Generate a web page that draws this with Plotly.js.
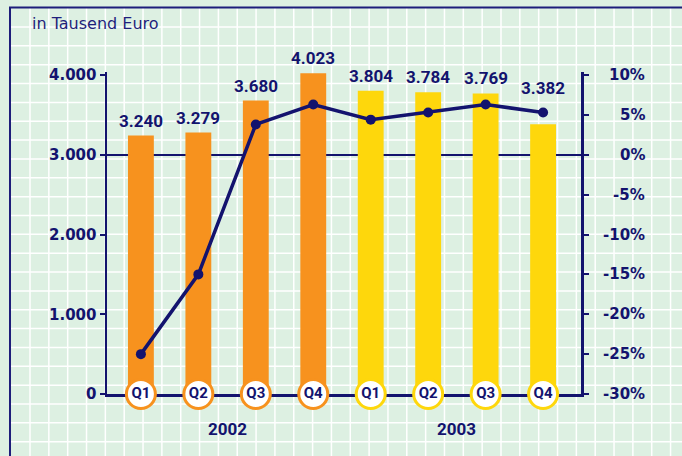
<!DOCTYPE html>
<html>
<head>
<meta charset="utf-8">
<script src="https://cdn.plot.ly/plotly-3.0.1.min.js"></script>
<style>
html,body{margin:0;padding:0;background:#ddf0e2;}
#chart{width:682px;height:456px;}
</style>
</head>
<body>
<div id="chart"></div>
<script>
// ---- data ----
const years    = ['2002','2002','2002','2002','2003','2003','2003','2003'];
const quarters = ['Q1','Q2','Q3','Q4','Q1','Q2','Q3','Q4'];
const revenue  = [3240, 3279, 3680, 4023, 3804, 3784, 3769, 3382];      // in Tausend Euro
const revenueLabels = ['3.240','3.279','3.680','4.023','3.804','3.784','3.769','3.382'];
const change   = [-25, -15, 3.8, 6.3, 4.4, 5.3, 6.3, 5.3];             // %
const leftTicks  = [0, 1000, 2000, 3000, 4000];
const rightTicks = [10, 5, 0, -5, -10, -15, -20, -25, -30];
const rightTickLabels = ['10%','5%','0%','-5%','-10%','-15%','-20%','-25%','-30%'];
const yearLabels = ['2002','2003'];

// ---- styling ----
const NAVY = '#13136e';
const BG = '#ddf0e2';
const yearColor = {'2002':'#f7921e','2003':'#fed70c'};
const W = 682, H = 456;
const keys = quarters.map((q,i)=> years[i]+' '+q);
const fontAxis = {family:'DejaVu Sans, Verdana, sans-serif', size:15, color:NAVY, weight:700};
const fontNarrow = {family:'Liberation Sans Narrow, Roboto, Arial Narrow, sans-serif', size:17, color:NAVY, weight:700};

const px = x => x / W;
const py = y => 1 - y / H;

// axis ranges (both share the same vertical domain)
const yRange  = [0, 4040];
const y2Range = [-30, 10];
const plotBottom = 394, tick4000 = 75;
const plotTop = tick4000 - (yRange[1] - 4000) * (plotBottom - tick4000) / 4000;
const y2RangeAdj = [y2Range[0], y2Range[0] + (y2Range[1]-y2Range[0]) * (plotBottom - plotTop) / (plotBottom - tick4000)];

const shapes = [];
// background grid (decoration)
for (let x = 30; x < W; x += 18.84) {
  shapes.push({type:'line', xref:'paper', yref:'paper', x0:px(x), x1:px(x), y0:py(8), y1:0,
    line:{color:'#ffffff', width:1.5}, layer:'below'});
}
for (let y = 27; y < H; y += 18.85) {
  shapes.push({type:'line', xref:'paper', yref:'paper', x0:px(10), x1:1, y0:py(y), y1:py(y),
    line:{color:'#ffffff', width:1.5}, layer:'below'});
}
// frame
shapes.push({type:'line', xref:'paper', yref:'paper', x0:px(10), x1:px(10), y0:py(7.5), y1:0,
  line:{color:'#1d1d7a', width:2}, layer:'below'});
shapes.push({type:'line', xref:'paper', yref:'paper', x0:px(9), x1:1, y0:py(7.5), y1:py(7.5),
  line:{color:'#1d1d7a', width:2}, layer:'below'});

const annotations = [];
annotations.push({text:'in Tausend Euro', xref:'paper', yref:'paper', x:px(30), y:py(24),
  xanchor:'left', yanchor:'middle', showarrow:false,
  font:{family:'DejaVu Sans, Verdana, sans-serif', size:16, color:'#1f1f7c'}});
// bar value labels: above the bar, or above the line point if it would collide
keys.forEach((k,i)=>{
  const lineInLeftUnits = (change[i] - y2Range[0]) / (y2Range[1]-y2Range[0]) * 4000;
  const base = Math.max(revenue[i], lineInLeftUnits + 120);
  annotations.push({text:revenueLabels[i], x:k, y:base, xref:'x', yref:'y',
    yanchor:'middle', yshift:15, showarrow:false, font:fontNarrow});
});
// right axis labels (right aligned)
rightTicks.forEach((v,i)=>{
  annotations.push({text:rightTickLabels[i], x:px(647), y:v, xref:'paper', yref:'y2',
    xanchor:'right', yanchor:'middle', showarrow:false, font:fontAxis});
});
// year labels
yearLabels.forEach((yr)=>{
  const idx = years.map((y,i)=> y===yr ? i : -1).filter(i=>i>=0);
  const mid = (idx[0] + idx[idx.length-1]) / 2;
  annotations.push({text:yr, x:mid, y:py(429), xref:'x', yref:'paper',
    yanchor:'middle', showarrow:false, font:fontNarrow});
});

const traces = [
  {type:'bar', x:keys, y:revenue, marker:{color:years.map(y=>yearColor[y])},
   width:0.45, hoverinfo:'skip', cliponaxis:false, xaxis:'x', yaxis:'y'},
  {type:'scatter', mode:'markers+text', x:keys, y:keys.map(()=>0), text:quarters,
   textposition:'middle center', textfont:{family:fontNarrow.family, size:15, color:NAVY, weight:700},
   marker:{size:29, color:'#ffffff', line:{color:years.map(y=>yearColor[y]), width:3}},
   cliponaxis:false, hoverinfo:'skip', xaxis:'x', yaxis:'y'},
  {type:'scatter', mode:'lines+markers', x:keys, y:change,
   line:{color:NAVY, width:3.5}, marker:{color:NAVY, size:10},
   cliponaxis:false, hoverinfo:'skip', xaxis:'x', yaxis:'y2'}
];

const layout = {
  width:W, height:H,
  margin:{l:0, r:0, t:0, b:0},
  paper_bgcolor:BG, plot_bgcolor:'rgba(0,0,0,0)',
  showlegend:false,
  separators:',.',
  xaxis:{type:'category', domain:[px(107), px(581)], range:[-0.59, 7.66],
    showticklabels:false, ticks:'', showgrid:false, zeroline:false,
    showline:true, linecolor:NAVY, linewidth:2.5, layer:'below traces', fixedrange:true},
  yaxis:{domain:[py(plotBottom), py(plotTop)], range:yRange, tickvals:leftTicks, tickformat:',d',
    ticks:'outside', ticklen:5, tickwidth:2, tickcolor:NAVY,
    showline:true, linecolor:NAVY, linewidth:2.5, showgrid:false, zeroline:false,
    tickfont:fontAxis, layer:'below traces', fixedrange:true},
  yaxis2:{overlaying:'y', side:'right', anchor:'x', range:y2RangeAdj, tickvals:rightTicks,
    showticklabels:false, ticks:'outside', ticklen:5, tickwidth:2, tickcolor:NAVY,
    showline:true, linecolor:NAVY, linewidth:2.5, showgrid:false,
    zeroline:true, zerolinecolor:NAVY, zerolinewidth:2, layer:'below traces', fixedrange:true},
  shapes:shapes,
  annotations:annotations
};

Plotly.newPlot('chart', traces, layout, {displayModeBar:false, staticPlot:true});
</script>
</body>
</html>
